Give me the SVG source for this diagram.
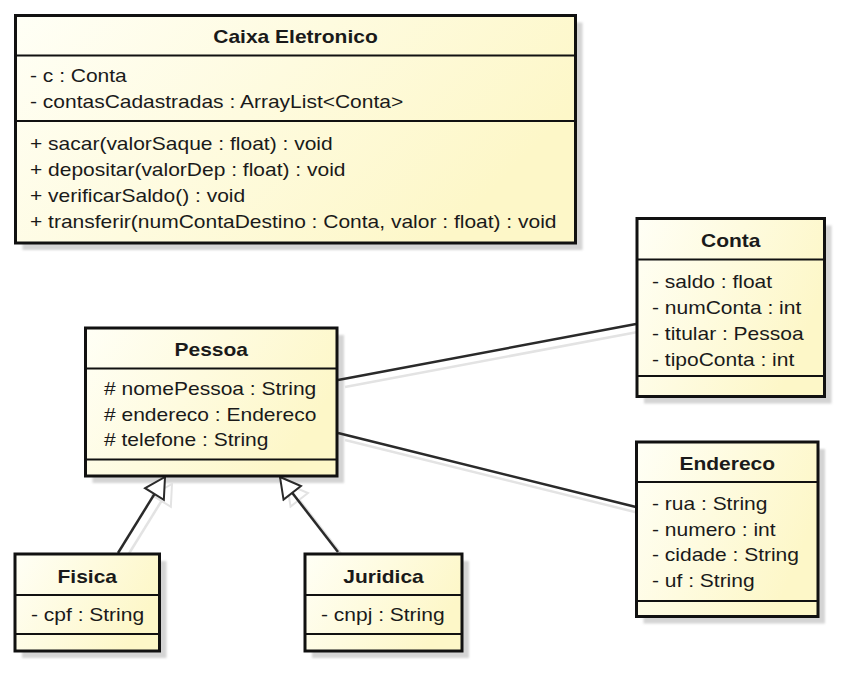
<svg xmlns="http://www.w3.org/2000/svg" width="848" height="677" viewBox="0 0 848 677">
<style>
text{font-family:"Liberation Sans",Arial,sans-serif;font-size:17.5px;fill:#1a1a1a}
.t{font-weight:bold;text-anchor:middle}
.box{fill:url(#fill);stroke:#111;stroke-width:3}
.sep{stroke:#111;stroke-width:2}
.sh{fill:#d4d4d4;filter:url(#blur)}
.line{stroke:#2a2a2a;stroke-width:2.5;fill:none}
.lsh{stroke:#e3e3e3;stroke-width:2.5;fill:none}
</style>
<defs>
<linearGradient id="fill" x1="0" y1="0" x2="1" y2="0.4">
<stop offset="0" stop-color="#fffff6"/>
<stop offset="1" stop-color="#fdf7c8"/>
</linearGradient>
<filter id="blur" x="-5%" y="-5%" width="110%" height="110%"><feGaussianBlur stdDeviation="1.2"/></filter>
<marker id="gen" markerUnits="userSpaceOnUse" markerWidth="24" markerHeight="26" viewBox="-2 -2 24 26" refX="20" refY="11" orient="auto">
<path d="M0,0 L20,11 L0,22 Z" fill="#fff" stroke="#2a2a2a" stroke-width="2"/>
</marker>
<marker id="gensh" markerUnits="userSpaceOnUse" markerWidth="24" markerHeight="26" viewBox="-2 -2 24 26" refX="20" refY="11" orient="auto">
<path d="M0,0 L20,11 L0,22 Z" fill="#fff" stroke="#e3e3e3" stroke-width="2"/>
</marker>
</defs>
<rect width="848" height="677" fill="#fff"/>
<g id="shadows">
<rect class="sh" x="22.5" y="22.5" width="560" height="227.5"/>
<rect class="sh" x="644" y="225.5" width="187.5" height="178"/>
<rect class="sh" x="92.5" y="335" width="251.5" height="148"/>
<rect class="sh" x="643.5" y="449" width="181.5" height="174.5"/>
<rect class="sh" x="22" y="561" width="144.5" height="97"/>
<rect class="sh" x="312" y="561" width="157" height="97"/>
</g>
<g id="connectors">
<line class="lsh" x1="345" y1="387" x2="643" y2="331"/>
<line class="lsh" x1="345" y1="440" x2="643" y2="514"/>
<line class="lsh" x1="125" y1="560" x2="172" y2="484" marker-end="url(#gensh)"/>
<line class="lsh" x1="345" y1="559" x2="287" y2="484" marker-end="url(#gensh)"/>
<line class="line" x1="338" y1="380" x2="636" y2="324"/>
<line class="line" x1="338" y1="433" x2="636" y2="507"/>
<line class="line" x1="118" y1="553" x2="165" y2="477" marker-end="url(#gen)"/>
<line class="line" x1="338" y1="552" x2="280" y2="477" marker-end="url(#gen)"/>
</g>
<g id="caixa">
<rect class="box" x="15.5" y="15.5" width="560" height="227.5"/>
<line class="sep" x1="15.5" y1="55.5" x2="575.5" y2="55.5"/>
<line class="sep" x1="15.5" y1="121" x2="575.5" y2="121"/>
<text class="t" transform="translate(295.5,43) scale(1.2,1)">Caixa Eletronico</text>
<text transform="translate(30,82) scale(1.2,1)">- c : Conta</text>
<text transform="translate(30,108) scale(1.2,1)">- contasCadastradas : ArrayList&lt;Conta&gt;</text>
<text transform="translate(30,150) scale(1.2,1)">+ sacar(valorSaque : float) : void</text>
<text transform="translate(30,176) scale(1.2,1)">+ depositar(valorDep : float) : void</text>
<text transform="translate(30,202) scale(1.2,1)">+ verificarSaldo() : void</text>
<text transform="translate(30,228) scale(1.2,1)">+ transferir(numContaDestino : Conta, valor : float) : void</text>
</g>
<g id="conta">
<rect class="box" x="637" y="218.5" width="187.5" height="178"/>
<line class="sep" x1="637" y1="259.5" x2="824.5" y2="259.5"/>
<line class="sep" x1="637" y1="376" x2="824.5" y2="376"/>
<text class="t" transform="translate(730.75,247) scale(1.2,1)">Conta</text>
<text transform="translate(652,288) scale(1.2,1)">- saldo : float</text>
<text transform="translate(652,314) scale(1.2,1)">- numConta : int</text>
<text transform="translate(652,340) scale(1.2,1)">- titular : Pessoa</text>
<text transform="translate(652,366) scale(1.2,1)">- tipoConta : int</text>
</g>
<g id="pessoa">
<rect class="box" x="85.5" y="328" width="251.5" height="148"/>
<line class="sep" x1="85.5" y1="368.5" x2="337" y2="368.5"/>
<line class="sep" x1="85.5" y1="459.5" x2="337" y2="459.5"/>
<text class="t" transform="translate(211.25,356) scale(1.2,1)">Pessoa</text>
<text transform="translate(104,395) scale(1.2,1)"># nomePessoa : String</text>
<text transform="translate(104,421) scale(1.2,1)"># endereco : Endereco</text>
<text transform="translate(104,446) scale(1.2,1)"># telefone : String</text>
</g>
<g id="endereco">
<rect class="box" x="636.5" y="442" width="181.5" height="174.5"/>
<line class="sep" x1="636.5" y1="482" x2="818" y2="482"/>
<line class="sep" x1="636.5" y1="601" x2="818" y2="601"/>
<text class="t" transform="translate(727.25,470) scale(1.2,1)">Endereco</text>
<text transform="translate(652,510) scale(1.2,1)">- rua : String</text>
<text transform="translate(652,536) scale(1.2,1)">- numero : int</text>
<text transform="translate(652,561) scale(1.2,1)">- cidade : String</text>
<text transform="translate(652,587) scale(1.2,1)">- uf : String</text>
</g>
<g id="fisica">
<rect class="box" x="15" y="554" width="144.5" height="97"/>
<line class="sep" x1="15" y1="595" x2="159.5" y2="595"/>
<line class="sep" x1="15" y1="634" x2="159.5" y2="634"/>
<text class="t" transform="translate(87.25,583) scale(1.2,1)">Fisica</text>
<text transform="translate(31,621) scale(1.2,1)">- cpf : String</text>
</g>
<g id="juridica">
<rect class="box" x="305" y="554" width="157" height="97"/>
<line class="sep" x1="305" y1="595" x2="462" y2="595"/>
<line class="sep" x1="305" y1="634" x2="462" y2="634"/>
<text class="t" transform="translate(383.5,583) scale(1.2,1)">Juridica</text>
<text transform="translate(321,621) scale(1.2,1)">- cnpj : String</text>
</g>
</svg>
